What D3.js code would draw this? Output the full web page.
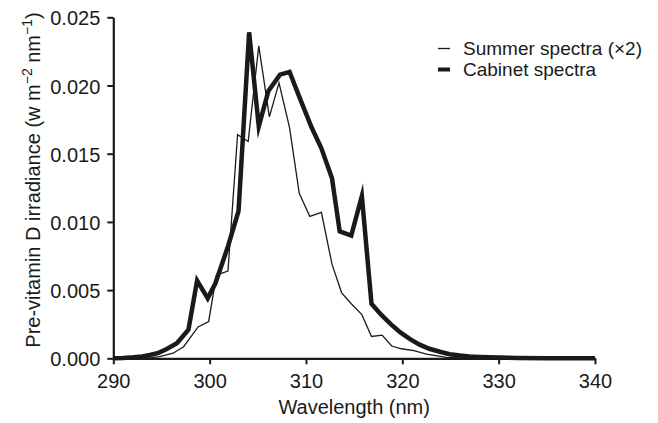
<!DOCTYPE html>
<html>
<head>
<meta charset="utf-8">
<script src="https://cdn.jsdelivr.net/npm/d3@7"></script>
<style>
  body { margin: 0; background: #fff; }
  svg text { font-family: "Liberation Sans", Arial, sans-serif; fill: #1a1a1a; }
</style>
</head>
<body>
<svg id="chart"></svg>
<script>
// wavelength (nm) and pre-vitamin D irradiance
const cabinetWl = [290, 291, 292.1, 293, 293.8, 294.7, 295.5, 296.6, 297.8, 298.7, 299.8, 300.6, 301.9, 303.0,
  304.1, 305.1, 306.1, 307.3, 308.3, 309.4, 310.6, 311.6, 312.7, 313.5, 314.7, 315.8, 316.8, 317.8, 318.8,
  319.8, 320.8, 321.8, 322.8, 323.9, 324.9, 326, 327, 328, 330, 332, 335, 340];
const cabinetVal = [0, 0.00002, 0.00007, 0.00013, 0.00024, 0.0004, 0.00066, 0.0011, 0.0021, 0.0057, 0.0044, 0.0055, 0.0082, 0.0108,
  0.0239, 0.0170, 0.0196, 0.0208, 0.0210, 0.0190, 0.0169, 0.0154, 0.0132, 0.0093, 0.0090, 0.0119, 0.0040, 0.0032, 0.0025,
  0.0019, 0.0014, 0.0010, 0.0007, 0.00048, 0.0003, 0.0002, 0.00014, 0.0001, 0.00005, 0.00002, 0.00001, 0];

const summerWl = [290, 292, 294, 294.8, 296.2, 297.3, 298.8, 299.9, 300.7, 301.9, 302.9, 304.0, 305.1, 306.2, 307.2,
  308.3, 309.3, 310.4, 311.6, 312.7, 313.7, 314.7, 315.8, 316.8, 317.9, 318.9, 319.9, 321.2, 322.5, 324.6, 327, 330, 340];
const summerVal = [0, 0.00001, 0.00005, 0.00012, 0.00037, 0.00085, 0.0023, 0.0027, 0.0061, 0.0064, 0.0164, 0.0159, 0.0229, 0.0177, 0.0202,
  0.0169, 0.0121, 0.0104, 0.0107, 0.0069, 0.0048, 0.0040, 0.0032, 0.0016, 0.0017, 0.0009, 0.0007, 0.00056, 0.0003, 0.00007, 0.00002, 0, 0];

const xTicks = [290, 300, 310, 320, 330, 340];
const yTicks = [0, 0.005, 0.010, 0.015, 0.020, 0.025];
const legendLabels = ["Summer spectra (\u00d72)", "Cabinet spectra"];

const W = 658, H = 423;
const margin = {top: 17.3, right: 63, bottom: 64.7, left: 113.3};
const width = W - margin.left - margin.right;
const height = H - margin.top - margin.bottom;
const ink = "#1a1a1a";

const svg = d3.select("#chart").attr("width", W).attr("height", H);
const chart = svg.append("g").attr("transform", `translate(${margin.left},${margin.top})`);

const x = d3.scaleLinear().domain([290, 340]).range([0, width]);
const y = d3.scaleLinear().domain([0, 0.025]).range([height, 0]);

// axes
const xAxis = d3.axisBottom(x).tickValues(xTicks).tickSize(6).tickSizeOuter(0).tickPadding(6);
const yAxis = d3.axisLeft(y).tickValues(yTicks).tickSize(6).tickSizeOuter(0).tickPadding(7).tickFormat(d3.format(".3f"));

const gx = chart.append("g").attr("transform", `translate(0,${height})`).call(xAxis);
const gy = chart.append("g").call(yAxis);

[gx, gy].forEach(g => {
  g.select(".domain").attr("stroke", ink).attr("stroke-width", 2.2);
  g.selectAll(".tick line").attr("stroke", ink).attr("stroke-width", 2);
  g.selectAll(".tick text").attr("font-size", 20).attr("fill", ink)
    .style("font-family", "'Liberation Sans', Arial, sans-serif");
});
gx.selectAll(".tick text").attr("dy", "0.9em");
gy.selectAll(".tick text").attr("dy", "0.38em");

// lines
const summer = summerWl.map((w, i) => [w, summerVal[i]]);
const cabinet = cabinetWl.map((w, i) => [w, cabinetVal[i]]);
const line = d3.line().x(d => x(d[0])).y(d => y(d[1]));

chart.append("path").attr("d", line(summer))
  .attr("fill", "none").attr("stroke", ink).attr("stroke-width", 1.3);
chart.append("path").attr("d", line(cabinet))
  .attr("fill", "none").attr("stroke", ink).attr("stroke-width", 4.5)
  .attr("stroke-linejoin", "miter").attr("stroke-miterlimit", 6);

// legend
const legend = svg.append("g");
legendLabels.forEach((lab, i) => {
  const ly = 48.5 + i * 21;
  legend.append("line").attr("x1", 438).attr("x2", 450).attr("y1", ly).attr("y2", ly)
    .attr("stroke", ink).attr("stroke-width", i === 0 ? 1.3 : 4);
  legend.append("text").attr("x", 463).attr("y", ly).attr("dy", "0.36em")
    .attr("font-size", 19).text(lab);
});

// axis titles
svg.append("text").attr("x", margin.left + width / 2).attr("y", 414)
  .attr("text-anchor", "middle").attr("font-size", 20).text("Wavelength (nm)");

const yt = svg.append("text")
  .attr("transform", `translate(40,${180}) rotate(-90)`)
  .attr("text-anchor", "middle").attr("font-size", 20);
yt.append("tspan").text("Pre-vitamin D irradiance (w m");
yt.append("tspan").attr("font-size", 14).attr("dy", -8).text("\u22122");
yt.append("tspan").attr("dy", 8).text(" nm");
yt.append("tspan").attr("font-size", 14).attr("dy", -8).text("\u22121");
yt.append("tspan").attr("dy", 8).text(")");
</script>
</body>
</html>
